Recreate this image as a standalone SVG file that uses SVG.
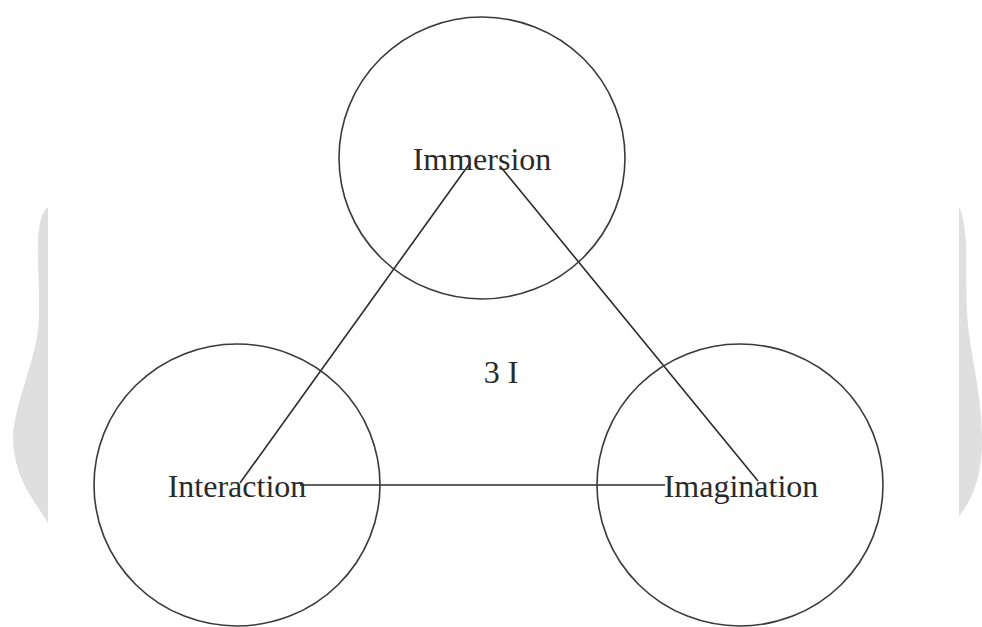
<svg xmlns="http://www.w3.org/2000/svg" width="982" height="627" viewBox="0 0 982 627">
<style>
.bg{fill:#dfdfdf;stroke:none}
.node{fill:none;stroke:#3a3a3a;stroke-width:1.6}
.lbl{font-family:"Liberation Serif","Times New Roman",serif;font-size:32px;fill:#2a2a2a}
.edge{stroke:#2a2a2a;stroke-width:1.6;fill:none}
</style>
<rect width="982" height="627" fill="#ffffff"/>
<path class="bg" d="M48,207 C42,212 39,222 38,240 C37,270 41,300 38,330 C34,360 24,380 15,420 C10,445 15,470 30,495 C38,508 44,516 48,523 Z"/>
<path class="bg" d="M959,207 C962,212 965,225 966,245 C967,280 965,310 970,340 C974,370 982,400 982,440 C982,470 976,495 959,516 Z"/>
<g id="connectors">
<line class="edge" x1="470" y1="163" x2="240" y2="483"/>
<line class="edge" x1="500" y1="166" x2="758" y2="481"/>
<line class="edge" x1="300" y1="485" x2="665" y2="485"/>
</g>
<g id="immersion">
<ellipse class="node" cx="482" cy="158" rx="143" ry="141"/>
<text class="lbl" x="482" y="170" text-anchor="middle">Immersion</text>
</g>
<g id="interaction">
<ellipse class="node" cx="237" cy="485" rx="143" ry="141"/>
<text class="lbl" x="237" y="497" text-anchor="middle">Interaction</text>
</g>
<g id="imagination">
<ellipse class="node" cx="740" cy="485" rx="143" ry="141"/>
<text class="lbl" x="741" y="497" text-anchor="middle">Imagination</text>
</g>
<g id="center">
<text class="lbl" x="501" y="383" text-anchor="middle">3 I</text>
</g>
</svg>
